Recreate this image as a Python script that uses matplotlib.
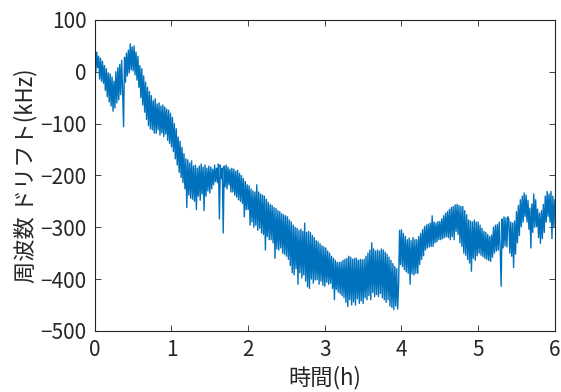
import numpy as np
import matplotlib
matplotlib.use('Agg')
import matplotlib.pyplot as plt

plt.rcParams['font.family'] = ['Noto Sans CJK JP', 'DejaVu Sans']

# sample spacing (hours)
dt = 0.0125

# frequency drift (kHz), one row per 0.1 h
drift = [
    44, -2, 38, 8, 30, -14, 26, -18,
    20, -22, 12, -36, 6, -48, -2, -58,
    -4, -66, -10, -76, -18, -70, 0, -60,
    8, -54, 14, -44, 22, -36, -106, 28,
    -20, 36, -8, 42, -2, 54, 4, 48,
    2, 50, -6, 38, -16, 30, -30, 12,
    -50, 6, -64, -8, -78, -20, -92, -30,
    -104, -38, -110, -46, -112, -56, -118, -52,
    -119, -62, -112, -60, -122, -66, -118, -64,
    -125, -68, -120, -72, -132, -74, -138, -80,
    -145, -88, -154, -100, -168, -110, -180, -126,
    -194, -134, -204, -146, -214, -158, -226, -168,
    -262, -170, -238, -176, -244, -172, -246, -182,
    -250, -180, -266, -186, -240, -182, -248, -178,
    -236, -184, -268, -180, -240, -186, -230, -182,
    -234, -184, -226, -188, -218, -180, -212, -186,
    -214, -178, -284, -180, -206, -186, -311, -182,
    -222, -180, -226, -184, -218, -188, -232, -186,
    -232, -188, -238, -192, -242, -190, -247, -196,
    -250, -200, -254, -206, -280, -212, -266, -218,
    -266, -220, -296, -226, -290, -230, -300, -232,
    -296, -218, -306, -232, -302, -236, -311, -238,
    -314, -240, -344, -246, -318, -252, -324, -256,
    -324, -258, -330, -262, -360, -264, -342, -268,
    -344, -270, -340, -274, -350, -276, -352, -278,
    -356, -280, -362, -286, -374, -290, -388, -296,
    -392, -300, -380, -302, -410, -306, -388, -304,
    -398, -308, -392, -292, -404, -310, -415, -308,
    -418, -310, -400, -316, -408, -320, -402, -326,
    -401, -328, -410, -332, -404, -336, -412, -338,
    -414, -340, -406, -346, -410, -350, -408, -356,
    -418, -360, -440, -364, -420, -368, -425, -368,
    -428, -367, -432, -364, -436, -362, -445, -360,
    -453, -356, -440, -358, -450, -362, -444, -360,
    -450, -360, -438, -364, -447, -362, -442, -363,
    -447, -362, -436, -356, -440, -350, -432, -344,
    -440, -330, -426, -342, -434, -346, -430, -344,
    -434, -346, -428, -342, -436, -344, -440, -348,
    -445, -352, -440, -358, -452, -364, -455, -370,
    -459, -376, -452, -380, -458, -410, -306, -372,
    -305, -376, -312, -382, -318, -386, -324, -389,
    -321, -410, -326, -390, -320, -392, -324, -389,
    -324, -389, -318, -372, -312, -362, -305, -355,
    -299, -344, -296, -340, -294, -338, -292, -337,
    -278, -337, -290, -330, -292, -328, -289, -324,
    -289, -324, -284, -322, -278, -320, -273, -318,
    -270, -320, -266, -324, -262, -318, -260, -324,
    -257, -308, -256, -314, -258, -330, -260, -337,
    -260, -350, -268, -354, -276, -362, -286, -369,
    -288, -385, -290, -360, -286, -364, -290, -355,
    -290, -350, -296, -354, -302, -357, -308, -360,
    -310, -362, -314, -364, -318, -366, -315, -358,
    -300, -350, -296, -346, -295, -344, -290, -340,
    -414, -284, -340, -280, -336, -282, -338, -280,
    -285, -350, -290, -356, -292, -378, -288, -352,
    -270, -330, -258, -316, -247, -299, -240, -290,
    -234, -279, -238, -290, -248, -304, -263, -340,
    -255, -310, -236, -300, -247, -299, -265, -320,
    -273, -331, -268, -322, -256, -310, -240, -290,
    -231, -279, -236, -290, -231, -322, -240, -300,
    -247,
]

hours = np.arange(len(drift)) * dt

fig = plt.figure(figsize=(5.61, 3.92), dpi=100)
ax = fig.add_axes([0.169, 0.156, 0.820, 0.793])
ax.plot(hours, drift, color='#0072BD', linewidth=1.0)

ax.set_xlim(0, 6)
ax.set_ylim(-500, 100)
ax.set_xticks(range(0, 7))
ax.set_yticks(range(-500, 101, 100))
ax.set_yticklabels(['\u2212500', '\u2212400', '\u2212300', '\u2212200', '\u2212100', '0', '100'])

for s in ax.spines.values():
    s.set_color('#262626')
    s.set_linewidth(0.8)
ax.tick_params(direction='in', length=4, width=0.6, colors='#262626',
               labelsize=15, top=True, right=True)
ax.tick_params(axis='x', pad=6)
ax.tick_params(axis='y', pad=6)
for lab in ax.get_xticklabels() + ax.get_yticklabels():
    lab.set_color('#262626')

ax.set_xlabel('時間(h)', fontsize=16, color='#262626', labelpad=3)
ax.set_ylabel('周波数 ドリフト(kHz)', fontsize=16, color='#262626', labelpad=2)

fig.savefig('out.png', dpi=100)
